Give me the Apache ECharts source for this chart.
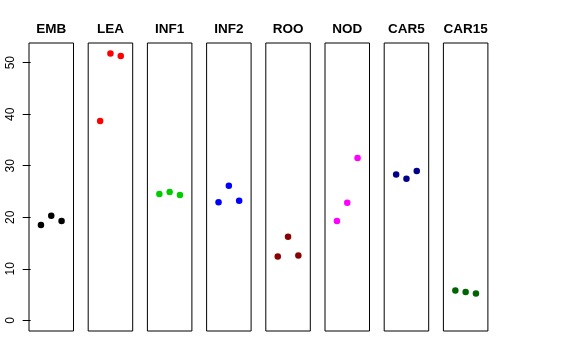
<!DOCTYPE html>
<html>
<head>
<meta charset="utf-8">
<script src="https://cdn.jsdelivr.net/npm/echarts@6/dist/echarts.min.js"></script>
<style>html,body{margin:0;padding:0;background:#fff}#c{width:576px;height:360px}</style>
</head>
<body>
<div id="c"></div>
<script>
const categories = ['EMB','LEA','INF1','INF2','ROO','NOD','CAR5','CAR15'];
const xPositions = [1, 2, 3];
const valEMB   = [18.5, 20.3, 19.3];
const valLEA   = [38.7, 51.8, 51.3];
const valINF1  = [24.5, 24.9, 24.3];
const valINF2  = [22.9, 26.1, 23.2];
const valROO   = [12.4, 16.2, 12.6];
const valNOD   = [19.3, 22.8, 31.5];
const valCAR5  = [28.3, 27.5, 29.0];
const valCAR15 = [5.8, 5.5, 5.2];
const yTicks = [0, 10, 20, 30, 40, 50];
const colors = ['#000000','#FF0000','#00CD00','#0000FF','#8B0000','#FF00FF','#00008B','#006400'];
const allValues = [valEMB, valLEA, valINF1, valINF2, valROO, valNOD, valCAR5, valCAR15];

const yMin = -2.07, yMax = 53.82;
const xMin = -0.16, xMax = 4.16;
const panelLeft0 = 29, panelStep = 59.2, panelW = 44.5, panelTop = 43, panelH = 288;

const grid = [], xAxis = [], yAxis = [], series = [], graphic = [];
categories.forEach((name, i) => {
  const left = panelLeft0 + i * panelStep;
  grid.push({left: left, top: panelTop, width: panelW, height: panelH,
    show: true, borderColor: '#000', borderWidth: 1, backgroundColor: 'transparent'});
  xAxis.push({type: 'value', gridIndex: i, min: xMin, max: xMax, show: false});
  const first = i === 0;
  yAxis.push({type: 'value', gridIndex: i, min: yMin, max: yMax, show: first,
    axisLine: {show: false},
    splitLine: {show: false},
    axisTick: {show: first, length: 8, inside: false, customValues: yTicks, lineStyle: {color: '#000', width: 1}},
    axisLabel: {show: first, customValues: yTicks, rotate: 90, margin: 12, color: '#000',
      fontSize: 12, fontFamily: 'Liberation Sans, Arial, sans-serif'}
  });
  series.push({type: 'scatter', xAxisIndex: i, yAxisIndex: i, symbol: 'circle', symbolSize: 6.5,
    itemStyle: {color: colors[i], opacity: 1},
    data: xPositions.map((x, k) => [x, allValues[i][k]]), silent: true});
  graphic.push({type: 'text', x: left + panelW / 2, y: 29.5,
    style: {text: name, textAlign: 'center', textVerticalAlign: 'middle',
      font: 'bold 13.5px "Liberation Sans", Arial, sans-serif', fill: '#000'}});
});

const chart = echarts.init(document.getElementById('c'), null, {renderer: 'canvas'});
chart.setOption({animation: false, grid, xAxis, yAxis, series, graphic});
</script>
</body>
</html>
